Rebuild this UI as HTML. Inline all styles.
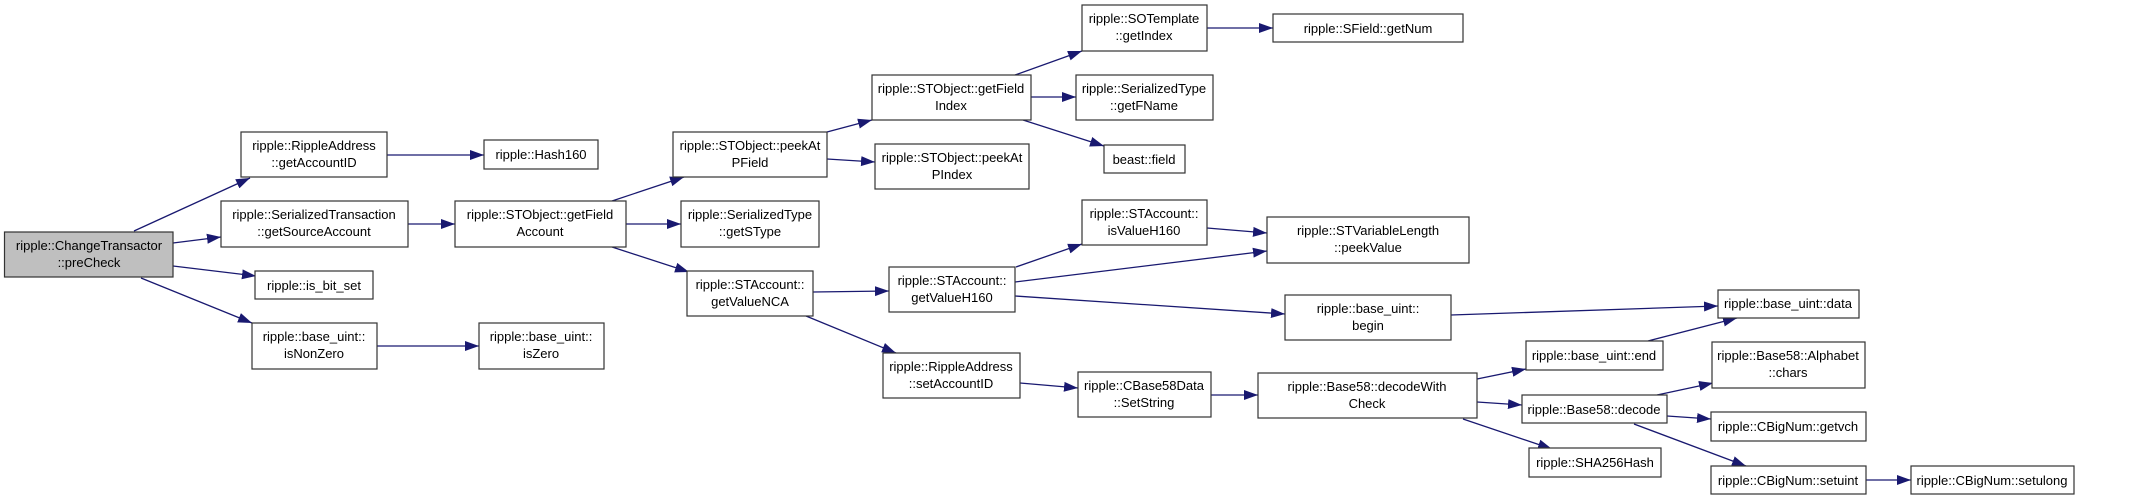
<!DOCTYPE html>
<html><head><meta charset="utf-8"><style>
html,body{margin:0;padding:0;background:#fff;}
svg{display:block;}
text{font-family:"Liberation Sans",sans-serif;font-size:13px;fill:#000;}
</style></head><body>
<svg width="2131" height="500" viewBox="0 0 2131 500" xmlns="http://www.w3.org/2000/svg">
<defs>
<marker id="a" markerUnits="userSpaceOnUse" markerWidth="15" markerHeight="12" refX="14" refY="6" orient="auto">
<path d="M0,1 L14,6 L0,11 Z" fill="#191970"/>
</marker>
</defs>
<g stroke="#191970" stroke-width="1.3" fill="none" marker-end="url(#a)">
<line x1="134" y1="231" x2="250" y2="178"/>
<line x1="173" y1="243" x2="221" y2="237"/>
<line x1="173" y1="266" x2="256" y2="276"/>
<line x1="141" y1="278" x2="252" y2="323"/>
<line x1="387" y1="155" x2="484" y2="155"/>
<line x1="408" y1="224" x2="455" y2="224"/>
<line x1="377" y1="346" x2="479" y2="346"/>
<line x1="612" y1="201" x2="684" y2="177"/>
<line x1="626" y1="224" x2="681" y2="224"/>
<line x1="612" y1="247" x2="689" y2="272"/>
<line x1="827" y1="132" x2="872" y2="120"/>
<line x1="827" y1="159" x2="875" y2="162"/>
<line x1="1015" y1="75" x2="1082" y2="51"/>
<line x1="1031" y1="97" x2="1076" y2="97"/>
<line x1="1023" y1="120" x2="1104" y2="146"/>
<line x1="1207" y1="28" x2="1273" y2="28"/>
<line x1="813" y1="292" x2="889" y2="291"/>
<line x1="806" y1="316" x2="896" y2="353"/>
<line x1="1016" y1="267" x2="1082" y2="244"/>
<line x1="1015" y1="282" x2="1267" y2="251"/>
<line x1="1015" y1="296" x2="1285" y2="314"/>
<line x1="1207" y1="228" x2="1267" y2="233"/>
<line x1="1020" y1="383" x2="1078" y2="388"/>
<line x1="1211" y1="395" x2="1258" y2="395"/>
<line x1="1451" y1="315" x2="1718" y2="306"/>
<line x1="1648" y1="341" x2="1737" y2="318"/>
<line x1="1477" y1="379" x2="1526" y2="369"/>
<line x1="1477" y1="402" x2="1522" y2="405"/>
<line x1="1463" y1="419" x2="1552" y2="449"/>
<line x1="1657" y1="395" x2="1713" y2="383"/>
<line x1="1667" y1="416" x2="1711" y2="419"/>
<line x1="1634" y1="424" x2="1746" y2="466"/>
<line x1="1866" y1="480" x2="1911" y2="480"/>
</g>
<g stroke="#333" stroke-width="1.2" fill="#fff">
<rect x="4.5" y="232" width="168.5" height="45" fill="#bfbfbf"/>
<rect x="241" y="132" width="146" height="45"/>
<rect x="484" y="140" width="114" height="29"/>
<rect x="221" y="201" width="187" height="46"/>
<rect x="455" y="201" width="171" height="46"/>
<rect x="255" y="271" width="118" height="28"/>
<rect x="252" y="323" width="125" height="46"/>
<rect x="479" y="323" width="125" height="46"/>
<rect x="1082" y="5" width="125" height="46"/>
<rect x="1273" y="14" width="190" height="28"/>
<rect x="872" y="75" width="159" height="45"/>
<rect x="1076" y="75" width="137" height="45"/>
<rect x="1104" y="145" width="81" height="28"/>
<rect x="673" y="132" width="154" height="45"/>
<rect x="875" y="144" width="154" height="45"/>
<rect x="681" y="201" width="138" height="46"/>
<rect x="687" y="271" width="126" height="45"/>
<rect x="1082" y="200" width="125" height="45"/>
<rect x="889" y="267" width="126" height="45"/>
<rect x="1267" y="217" width="202" height="46"/>
<rect x="1285" y="295" width="166" height="45"/>
<rect x="883" y="353" width="137" height="45"/>
<rect x="1078" y="372" width="133" height="45"/>
<rect x="1258" y="373" width="219" height="45"/>
<rect x="1718" y="290" width="141" height="28"/>
<rect x="1526" y="341" width="137" height="29"/>
<rect x="1712" y="342" width="153" height="46"/>
<rect x="1522" y="395" width="145" height="28"/>
<rect x="1711" y="412" width="155" height="29"/>
<rect x="1529" y="448" width="132" height="29"/>
<rect x="1711" y="466" width="155" height="28"/>
<rect x="1911" y="466" width="163" height="28"/>
</g>
<g text-anchor="middle">
<text x="89" y="250">ripple::ChangeTransactor</text><text x="89" y="267">::preCheck</text>
<text x="314" y="150">ripple::RippleAddress</text><text x="314" y="167">::getAccountID</text>
<text x="541" y="159">ripple::Hash160</text>
<text x="314" y="219">ripple::SerializedTransaction</text><text x="314" y="236">::getSourceAccount</text>
<text x="540" y="219">ripple::STObject::getField</text><text x="540" y="236">Account</text>
<text x="314" y="290">ripple::is_bit_set</text>
<text x="314" y="341">ripple::base_uint::</text><text x="314" y="358">isNonZero</text>
<text x="541" y="341">ripple::base_uint::</text><text x="541" y="358">isZero</text>
<text x="1144" y="23">ripple::SOTemplate</text><text x="1144" y="40">::getIndex</text>
<text x="1368" y="33">ripple::SField::getNum</text>
<text x="951" y="93">ripple::STObject::getField</text><text x="951" y="110">Index</text>
<text x="1144" y="93">ripple::SerializedType</text><text x="1144" y="110">::getFName</text>
<text x="1144" y="164">beast::field</text>
<text x="750" y="150">ripple::STObject::peekAt</text><text x="750" y="167">PField</text>
<text x="952" y="162">ripple::STObject::peekAt</text><text x="952" y="179">PIndex</text>
<text x="750" y="219">ripple::SerializedType</text><text x="750" y="236">::getSType</text>
<text x="750" y="289">ripple::STAccount::</text><text x="750" y="306">getValueNCA</text>
<text x="1144" y="218">ripple::STAccount::</text><text x="1144" y="235">isValueH160</text>
<text x="952" y="285">ripple::STAccount::</text><text x="952" y="302">getValueH160</text>
<text x="1368" y="235">ripple::STVariableLength</text><text x="1368" y="252">::peekValue</text>
<text x="1368" y="313">ripple::base_uint::</text><text x="1368" y="330">begin</text>
<text x="951" y="371">ripple::RippleAddress</text><text x="951" y="388">::setAccountID</text>
<text x="1144" y="390">ripple::CBase58Data</text><text x="1144" y="407">::SetString</text>
<text x="1367" y="391">ripple::Base58::decodeWith</text><text x="1367" y="408">Check</text>
<text x="1788" y="308">ripple::base_uint::data</text>
<text x="1594" y="360">ripple::base_uint::end</text>
<text x="1788" y="360">ripple::Base58::Alphabet</text><text x="1788" y="377">::chars</text>
<text x="1594" y="414">ripple::Base58::decode</text>
<text x="1788" y="431">ripple::CBigNum::getvch</text>
<text x="1595" y="467">ripple::SHA256Hash</text>
<text x="1788" y="485">ripple::CBigNum::setuint</text>
<text x="1992" y="485">ripple::CBigNum::setulong</text>
</g>
</svg>
</body></html>
